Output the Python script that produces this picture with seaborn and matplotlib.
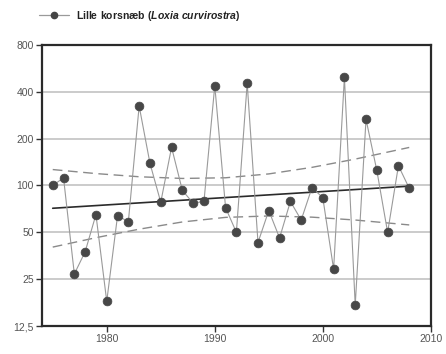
import matplotlib
matplotlib.use("Agg")
import matplotlib.pyplot as plt
from matplotlib.ticker import FixedLocator, FixedFormatter, MultipleLocator, NullLocator
import seaborn as sns
import pandas as pd

# Lille korsnæb, indeks pr. år
years = list(range(1975, 2009))
index = [100, 112, 27, 37.5, 65, 18, 64, 58.5, 324, 139,
         78, 176, 93, 77, 79, 438, 72, 50, 454, 43,
         69, 46, 79, 60, 97, 83.5, 29, 496, 17, 266,
         125, 50, 134, 96]

# trendlinje og konfidensgrænser (aflæst)
trend_years = [1975, 2008]
trend_vals = [71.4, 99]
band_years = [1975, 1979, 1983, 1987, 1991, 1995, 1999, 2003, 2008]
band_upper = [126.6, 119.3, 113.8, 111, 112.1, 118.7, 130.8, 147.8, 175.6]
band_lower = [40.2, 46.2, 52.4, 58.3, 62.4, 63.7, 62.6, 60.0, 55.8]

y_ticks = [12.5, 25, 50, 100, 200, 400, 800]
y_labels = ["12,5", "25", "50", "100", "200", "400", "800"]
x_ticks = [1980, 1990, 2000, 2010]

df = pd.DataFrame({"year": years, "index": index})

sns.set_style("white")
plt.rcParams["font.family"] = ["Liberation Sans", "DejaVu Sans"]
plt.rcParams["mathtext.fontset"] = "custom"
plt.rcParams["mathtext.bfit"] = "Liberation Sans:italic:bold"
plt.rcParams["mathtext.rm"] = "Liberation Sans:bold"

fig = plt.figure(figsize=(4.46, 3.54), dpi=100)
ax = fig.add_axes([0.094, 0.079, 0.872, 0.794])

ax.set_yscale("log")
for t in y_ticks[1:-1]:
    ax.axhline(t, color="#cbcbcb", lw=1.4, zorder=0)

# konfidensgrænser
ax.plot(band_years, band_upper, color="#8a8a8a", lw=1.0, ls=(0, (7, 4)), zorder=1)
ax.plot(band_years, band_lower, color="#8a8a8a", lw=1.0, ls=(0, (7, 4)), zorder=1)
# trend
ax.plot(trend_years, trend_vals, color="#2b2b2b", lw=1.2, zorder=2)

sns.lineplot(data=df, x="year", y="index", ax=ax, color="#9a9a9a", lw=0.8,
             zorder=3, legend=False)
sns.scatterplot(data=df, x="year", y="index", ax=ax, color="#474747", s=40,
                edgecolor="#474747", linewidth=0.5, zorder=4, legend=False)

ax.set_xlim(1974, 2010)
ax.set_ylim(12.5, 800)
ax.yaxis.set_major_locator(FixedLocator(y_ticks))
ax.yaxis.set_major_formatter(FixedFormatter(y_labels))
ax.yaxis.set_minor_locator(NullLocator())
ax.xaxis.set_major_locator(FixedLocator(x_ticks))
ax.xaxis.set_minor_locator(MultipleLocator(2))
ax.set_xlabel("")
ax.set_ylabel("")

ax.tick_params(axis="both", which="major", direction="out", length=4, width=1.0,
               color="#333333", labelsize=7.5, labelcolor="#555555", pad=2)
ax.tick_params(axis="x", which="minor", direction="out", length=2.5, width=0.8,
               color="#555555")
ax.tick_params(axis="y", which="major", left=True)
ax.tick_params(axis="x", which="major", bottom=True)

for s in ax.spines.values():
    s.set_visible(True)
    s.set_linewidth(1.6)
    s.set_color("#2a2a2a")

# forklaring over figuren
h, = ax.plot([], [], color="#9a9a9a", lw=0.9, marker="o", markersize=4.5,
             markerfacecolor="#454545", markeredgecolor="#454545")
fig.legend([h], [r"$\mathrm{Lille\ korsnæb\ (}\mathbfit{Loxia\ curvirostra}\mathrm{)}$"],
           loc="center left", bbox_to_anchor=(0.088, 0.955), frameon=False,
           handlelength=2.9, handletextpad=0.6, borderpad=0, borderaxespad=0,
           fontsize=7.5, labelcolor="#222222")

fig.savefig("out.png", dpi=100)
